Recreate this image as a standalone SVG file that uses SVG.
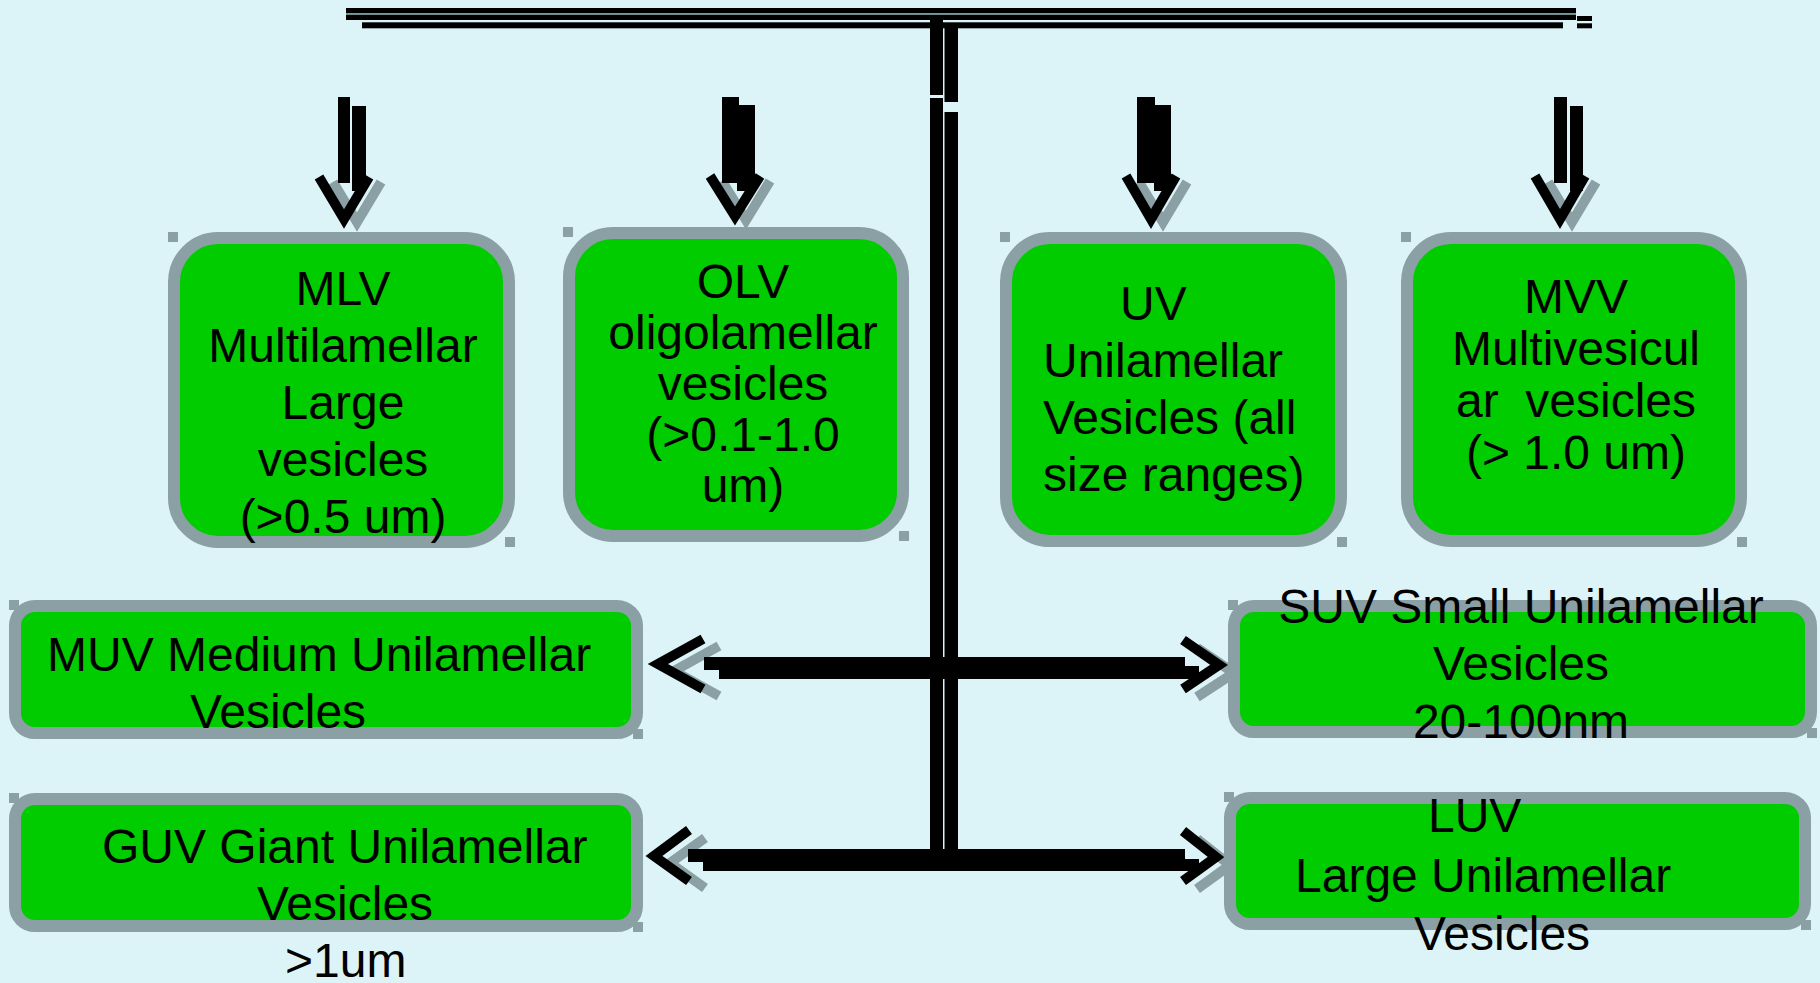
<svg xmlns="http://www.w3.org/2000/svg" width="1820" height="983" viewBox="0 0 1820 983">
<style>
.box{fill:#00cc00;stroke:#8ba0a4;stroke-width:12}
.sq{fill:#8ba0a4}
.t{font-family:"Liberation Sans",Arial,sans-serif;font-size:48px;fill:#000}
.c{text-anchor:middle}
.bk{fill:#000}
.sep{fill:#6f8a8e}
.vb{fill:none;stroke:#000;stroke-width:10;stroke-linejoin:miter;stroke-miterlimit:10}
.vg{fill:none;stroke:#8ba0a4;stroke-width:10;stroke-linejoin:miter;stroke-miterlimit:10}
</style>
<rect width="1820" height="983" fill="#dcf4f8"/>
<g id="connectors">
  <!-- top bar -->
  <rect class="bk" x="346" y="8" width="1230" height="5.3"/>
  <rect class="sep" x="346" y="13.3" width="1230" height="1.7"/>
  <rect class="bk" x="346" y="15" width="1230" height="5"/>
  <rect class="bk" x="362" y="22.3" width="1201" height="6"/>
  <rect class="bk" x="1577" y="16" width="15" height="5"/>
  <rect class="bk" x="1577" y="23.3" width="15" height="5"/>
  <!-- central stem -->
  <rect class="bk" x="930" y="20" width="13" height="75"/>
  <rect class="bk" x="930" y="98" width="13" height="752"/>
  <rect class="bk" x="944.5" y="25" width="13.5" height="77"/>
  <rect class="bk" x="944.5" y="112" width="13.5" height="738"/>
  <!-- down arrows -->
  <g id="arrow-mlv">
    <polyline class="vg" points="333,182 357,222 381,182"/>
    <rect class="bk" x="338" y="97" width="12" height="86"/>
    <rect class="bk" x="352" y="106" width="14" height="85"/>
    <polyline class="vb" points="319,177 344,219 369,177"/>
  </g>
  <g id="arrow-olv">
    <polyline class="vg" points="722,181 746,220 770,181"/>
    <rect class="bk" x="722" y="97" width="17" height="86"/>
    <rect class="bk" x="737" y="105" width="18" height="86"/>
    <polyline class="vb" points="710,176 735,216 760,176"/>
  </g>
  <g id="arrow-uv">
    <polyline class="vg" points="1139,182 1163,222 1187,182"/>
    <rect class="bk" x="1137" y="97" width="18" height="86"/>
    <rect class="bk" x="1154" y="105" width="17" height="86"/>
    <polyline class="vb" points="1126,176 1151,219 1176,176"/>
  </g>
  <g id="arrow-mvv">
    <polyline class="vg" points="1548,182 1572,222 1596,182"/>
    <rect class="bk" x="1554" y="97" width="13" height="86"/>
    <rect class="bk" x="1570" y="106" width="13" height="85"/>
    <polyline class="vb" points="1535,176 1560,219 1585,176"/>
  </g>
  <!-- horizontal arrows top -->
  <g id="arrow-muv-suv">
    <polyline class="vg" points="719,646 674,671 719,696"/>
    <polyline class="vg" points="1197,648 1234,673 1197,697"/>
    <rect class="bk" x="704" y="657" width="481" height="13"/>
    <rect class="bk" x="719" y="666" width="480" height="13"/>
    <polyline class="vb" points="703,639 658,664 703,689"/>
    <polyline class="vb" points="1183,640 1219,665 1183,689"/>
  </g>
  <g id="arrow-guv-luv">
    <polyline class="vg" points="705,838 670,863 705,888"/>
    <polyline class="vg" points="1197,839 1230,865 1197,889"/>
    <rect class="bk" x="688" y="849" width="497" height="13"/>
    <rect class="bk" x="703" y="859" width="496" height="12"/>
    <polyline class="vb" points="689,830 654,856 689,881"/>
    <polyline class="vb" points="1183,831 1216,857 1183,881"/>
  </g>
</g>
<g id="node-mlv">
  <rect class="sq" x="168" y="232" width="10" height="10"/>
  <rect class="sq" x="505" y="537" width="10" height="10"/>
  <rect class="box" x="174" y="238" width="335" height="304" rx="44"/>
  <text class="t c" x="343" y="305">MLV</text>
  <text class="t c" x="343" y="362">Multilamellar</text>
  <text class="t c" x="343" y="419">Large</text>
  <text class="t c" x="343" y="476">vesicles</text>
  <text class="t c" x="343" y="533">(&gt;0.5 um)</text>
</g>
<g id="node-olv">
  <rect class="sq" x="563" y="227" width="10" height="10"/>
  <rect class="sq" x="899" y="531" width="10" height="10"/>
  <rect class="box" x="569" y="233" width="334" height="303" rx="44"/>
  <text class="t c" x="743" y="298">OLV</text>
  <text class="t c" x="743" y="349">oligolamellar</text>
  <text class="t c" x="743" y="400">vesicles</text>
  <text class="t c" x="743" y="451">(&gt;0.1-1.0</text>
  <text class="t c" x="743" y="502">um)</text>
</g>
<g id="node-uv">
  <rect class="sq" x="1000" y="232" width="10" height="10"/>
  <rect class="sq" x="1337" y="537" width="10" height="10"/>
  <rect class="box" x="1006" y="238" width="335" height="303" rx="44"/>
  <text class="t" x="1120" y="320">UV</text>
  <text class="t" x="1043" y="377">Unilamellar</text>
  <text class="t" x="1043" y="434">Vesicles (all</text>
  <text class="t" x="1043" y="491">size ranges)</text>
</g>
<g id="node-mvv">
  <rect class="sq" x="1401" y="232" width="10" height="10"/>
  <rect class="sq" x="1737" y="537" width="10" height="10"/>
  <rect class="box" x="1407" y="238" width="334" height="303" rx="44"/>
  <text class="t c" x="1576" y="313">MVV</text>
  <text class="t c" x="1576" y="365">Multivesicul</text>
  <text class="t c" x="1576" y="417" xml:space="preserve">ar  vesicles</text>
  <text class="t c" x="1576" y="469">(&gt; 1.0 um)</text>
</g>
<g id="node-muv">
  <rect class="sq" x="9" y="600" width="10" height="10"/>
  <rect class="sq" x="633" y="729" width="10" height="10"/>
  <rect class="box" x="15" y="606" width="622" height="127" rx="20"/>
  <text class="t" x="47" y="671">MUV Medium Unilamellar</text>
  <text class="t" x="190" y="728">Vesicles</text>
</g>
<g id="node-guv">
  <rect class="sq" x="9" y="793" width="10" height="10"/>
  <rect class="sq" x="633" y="922" width="10" height="10"/>
  <rect class="box" x="15" y="799" width="622" height="127" rx="20"/>
  <text class="t" x="102" y="863">GUV Giant Unilamellar</text>
  <text class="t" x="257" y="920">Vesicles</text>
  <text class="t" x="285" y="977">&gt;1um</text>
</g>
<g id="node-suv">
  <rect class="sq" x="1228" y="600" width="10" height="10"/>
  <rect class="sq" x="1807" y="728" width="10" height="10"/>
  <rect class="box" x="1234" y="606" width="577" height="126" rx="20"/>
  <text class="t c" x="1521" y="623">SUV Small Unilamellar</text>
  <text class="t c" x="1521" y="680">Vesicles</text>
  <text class="t c" x="1521" y="738">20-100nm</text>
</g>
<g id="node-luv">
  <rect class="sq" x="1224" y="792" width="10" height="10"/>
  <rect class="sq" x="1801" y="920" width="10" height="10"/>
  <rect class="box" x="1230" y="798" width="575" height="126" rx="20"/>
  <text class="t" x="1428" y="832">LUV</text>
  <text class="t" x="1295" y="892">Large Unilamellar</text>
  <text class="t" x="1414" y="950">Vesicles</text>
</g>
</svg>
